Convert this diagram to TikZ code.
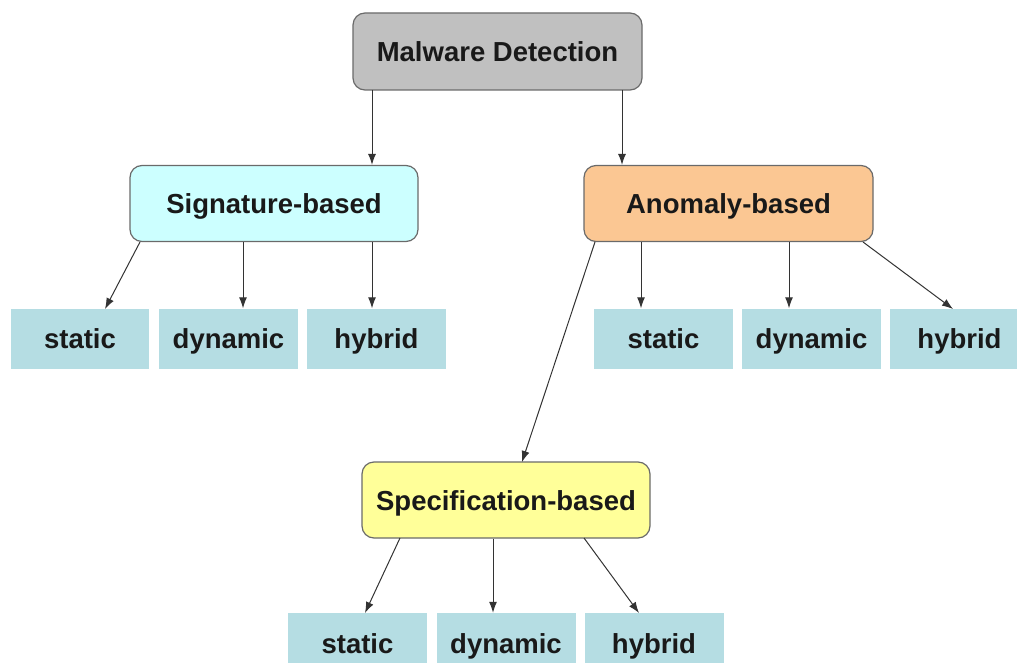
\documentclass[tikz,border=0pt]{standalone}
\usepackage{fontspec}
\setmainfont{Liberation Sans}
\usetikzlibrary{arrows.meta}
\definecolor{mdgray}{HTML}{C0C0C0}
\definecolor{sigcyan}{HTML}{CCFFFF}
\definecolor{anoorange}{HTML}{FBC793}
\definecolor{specyellow}{HTML}{FFFF99}
\definecolor{leafblue}{HTML}{B5DDE3}
\definecolor{edgegray}{HTML}{6A6A6A}
\tikzset{
  txt/.style={font=\fontsize{27.5}{31}\selectfont\bfseries, text=black!90, text height=24pt, text depth=4pt},
  mainbox/.style={txt, draw=edgegray, line width=1.2pt, rounded corners=12pt, minimum width=288pt, minimum height=76pt, inner sep=0pt},
  leafbox/.style={txt, fill=leafblue, draw=none, minimum width=139pt, minimum height=60pt, inner sep=0pt},
  conn/.style={draw=black!80, line width=1pt, -{Latex[length=11pt,width=8pt]}}
}
\begin{document}
\begin{tikzpicture}[x=1pt,y=-1pt]
\useasboundingbox (0,0) rectangle (1017,663);
\fill[white] (0,0) rectangle (1017,663);
% main nodes
\node[mainbox, fill=mdgray, minimum width=289pt, minimum height=77pt] (md) at (497.5,51.5) {Malware Detection};
\node[mainbox, fill=sigcyan] (sig) at (274,203.5) {Signature-based};
\node[mainbox, fill=anoorange, minimum width=289pt] (ano) at (728.5,203.5) {Anomaly-based};
\node[mainbox, fill=specyellow] (spec) at (506,500) {Specification-based};
% leaves
\node[leafbox, minimum width=138pt] (s1) at (80,338.5) {static};
\node[leafbox] (s2) at (228.5,338.5) {dynamic};
\node[leafbox] (s3) at (376.5,338.5) {hybrid};
\node[leafbox] (a1) at (663.5,338.5) {static};
\node[leafbox] (a2) at (811.5,338.5) {dynamic};
\node[leafbox] (a3) at (959.5,338.5) {hybrid};
\node[leafbox] (p1) at (357.5,643) {static};
\node[leafbox] (p2) at (506,643) {dynamic};
\node[leafbox] (p3) at (654,643) {hybrid};
% connectors
\coordinate (mdL) at (372,90);
\coordinate (mdR) at (622,90);
\draw[conn] (mdL) -- (sig.north -| mdL);
\draw[conn] (mdR) -- (ano.north -| mdR);
\coordinate (sig1) at (140,242);
\coordinate (s1t) at (105,309);
\draw[conn] (sig1) -- (s1t);
\draw[conn] (sig.south -| 243,0) -- (s2.north -| 243,0);
\draw[conn] (sig.south -| 372,0) -- (s3.north -| 372,0);
\draw[conn] (ano.south -| 641,0) -- (a1.north -| 641,0);
\draw[conn] (ano.south -| 789,0) -- (a2.north -| 789,0);
\coordinate (ano3) at (863,242);
\coordinate (a3t) at (953,309);
\draw[conn] (ano3) -- (a3t);
\coordinate (ano0) at (595,242);
\coordinate (spt) at (522,462);
\draw[conn] (ano0) -- (spt);
\coordinate (sp1) at (400,538);
\coordinate (p1t) at (365,613);
\draw[conn] (sp1) -- (p1t);
\draw[conn] (spec.south -| 493,0) -- (p2.north -| 493,0);
\coordinate (sp3) at (584,538);
\coordinate (p3t) at (639,613);
\draw[conn] (sp3) -- (p3t);
\end{tikzpicture}
\end{document}
